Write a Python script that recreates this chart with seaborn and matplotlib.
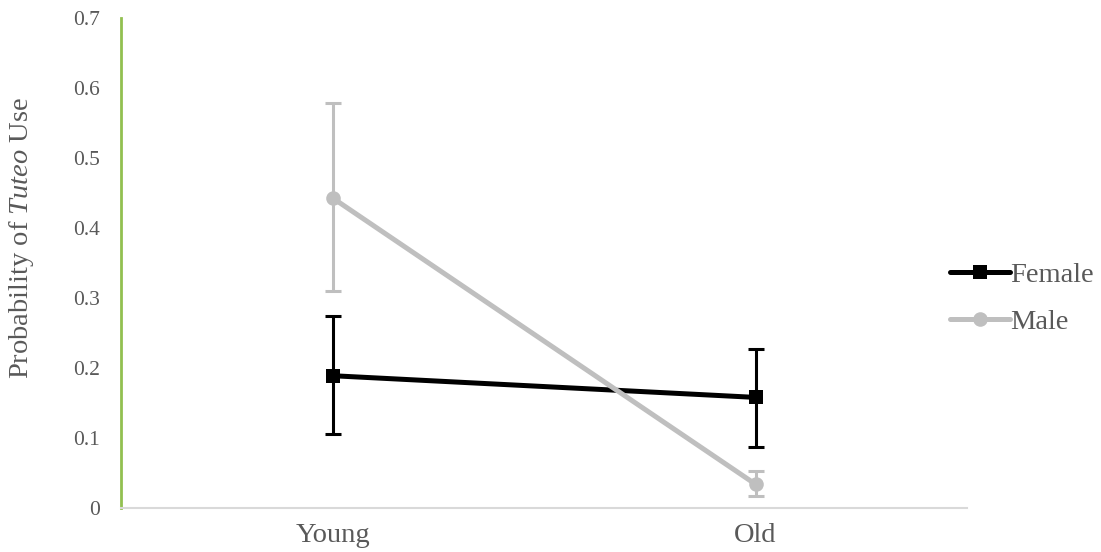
import matplotlib
matplotlib.use("Agg")
import matplotlib.pyplot as plt
import seaborn as sns
import pandas as pd
import numpy as np

# Estimated probabilities with 95% interval bounds
age_groups = ["Young", "Old"]
sexes = ["Female", "Male"]
female_prob = [0.189, 0.158]
female_lower = [0.106, 0.087]
female_upper = [0.275, 0.227]
male_prob = [0.443, 0.034]
male_lower = [0.310, 0.017]
male_upper = [0.578, 0.053]

sns.set_theme(style="white")
plt.rcParams["font.family"] = ["Liberation Serif", "DejaVu Serif"]
plt.rcParams["mathtext.fontset"] = "custom"
plt.rcParams["mathtext.it"] = "Liberation Serif:italic"
plt.rcParams["mathtext.rm"] = "Liberation Serif"

text_color = "#595959"
colors = {"Female": "#000000", "Male": "#BFBFBF"}
markers = {"Female": "s", "Male": "o"}

df = pd.DataFrame({
    "age": age_groups * 2,
    "sex": ["Female"] * 2 + ["Male"] * 2,
    "prob": female_prob + male_prob,
    "lower": female_lower + male_lower,
    "upper": female_upper + male_upper,
})
df["x"] = df["age"].map({a: i for i, a in enumerate(age_groups)})

fig = plt.figure(figsize=(11.01, 5.52), dpi=100)
ax = fig.add_axes([0.1099, 0.0797, 0.7684, 0.8877])

for z, sex in enumerate(sexes):
    sub = df[df["sex"] == sex]
    ax.errorbar(sub["x"], sub["prob"],
                yerr=[sub["prob"] - sub["lower"], sub["upper"] - sub["prob"]],
                fmt="none", ecolor=colors[sex], elinewidth=2.2,
                capsize=6, capthick=2.2, zorder=2 + 2 * z)
    sns.lineplot(data=sub, x="x", y="prob", ax=ax, color=colors[sex],
                 marker=markers[sex], markersize=10.5, linewidth=3.6,
                 markeredgewidth=0, label=sex, zorder=3 + 2 * z)

ax.set_xlim(-0.5, 1.5)
ax.set_ylim(0, 0.7)
ax.set_xticks(range(len(age_groups)))
ax.set_xticklabels(age_groups)
ax.set_yticks(np.round(np.arange(0, 0.71, 0.1), 1))
ax.set_yticklabels(["0"] + [f"{v:.1f}" for v in np.arange(0.1, 0.71, 0.1)])
ax.tick_params(axis="y", length=0, pad=15, labelsize=15.5, labelcolor=text_color)
ax.tick_params(axis="x", length=0, pad=11, labelsize=20.5, labelcolor=text_color)
ax.set_xlabel("")
ax.set_ylabel(r"Probability of $\mathit{Tuteo}$ Use", fontsize=20.5,
              color=text_color)
ax.yaxis.set_label_coords(-0.100, 0.551)

for side in ["top", "right"]:
    ax.spines[side].set_visible(False)
ax.spines["left"].set_color("#92C050")
ax.spines["left"].set_linewidth(2)
ax.spines["bottom"].set_color("#D9D9D9")
ax.spines["bottom"].set_linewidth(1.5)

leg = ax.legend(loc="center left", bbox_to_anchor=(0.967, 0.428), frameon=False,
                fontsize=20.5, handlelength=2.1, handletextpad=0.0,
                labelspacing=0.75, borderaxespad=0.0)
for t in leg.get_texts():
    t.set_color(text_color)

fig.savefig("out.png", dpi=100)
